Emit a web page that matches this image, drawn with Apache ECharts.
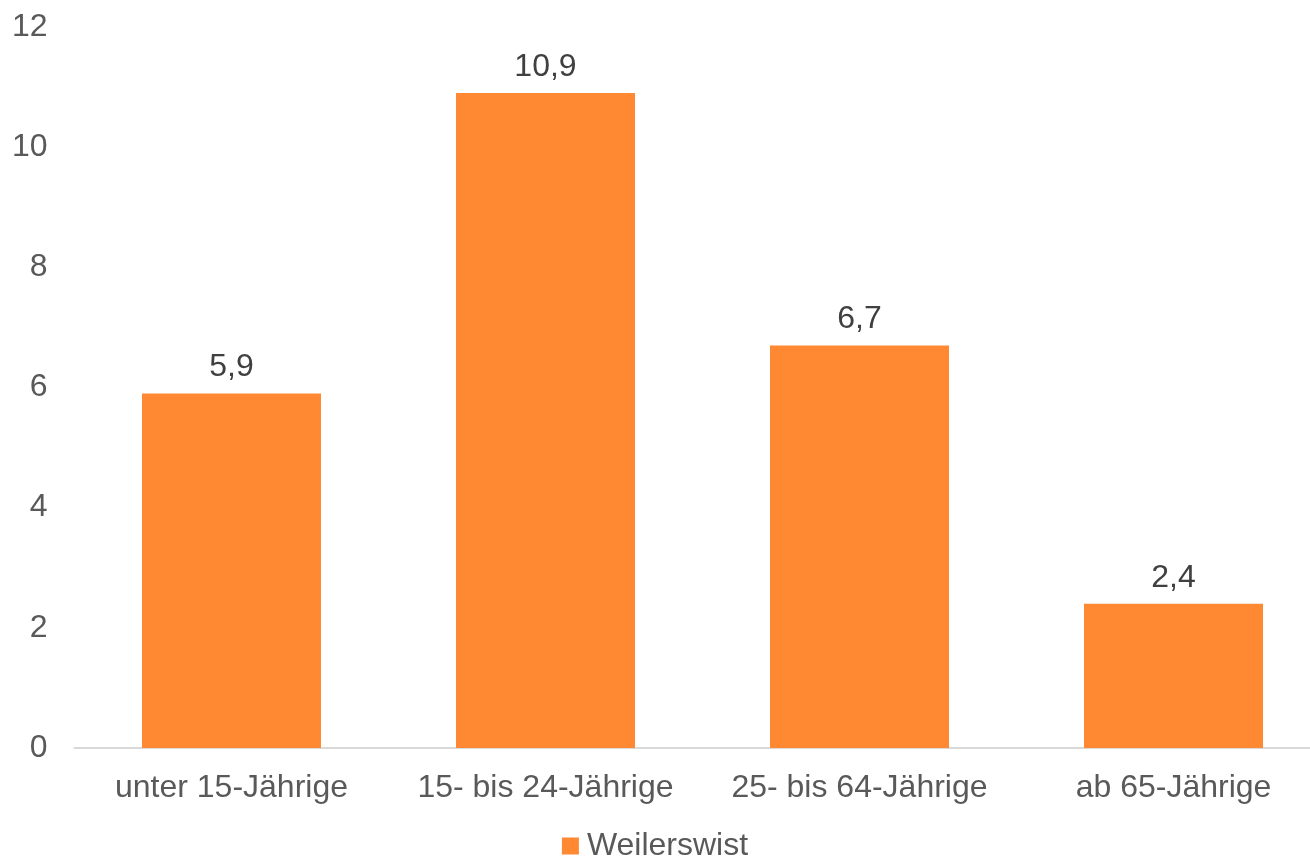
<!DOCTYPE html>
<html><head><meta charset="utf-8">
<script src="https://cdn.jsdelivr.net/npm/echarts@6/dist/echarts.min.js"></script>
<style>html,body{margin:0;padding:0;background:#fff}#c{width:1310px;height:858px}</style>
</head><body><div id="c"></div>
<script>
const categories = ['unter 15-Jährige', '15- bis 24-Jährige', '25- bis 64-Jährige', 'ab 65-Jährige'];
const seriesName = 'Weilerswist';
const values = [5.9, 10.9, 6.7, 2.4];
const yTicks = [0, 2, 4, 6, 8, 10, 12];

const chart = echarts.init(document.getElementById('c'), null, {renderer: 'canvas'});
const font = 'Liberation Sans, Arial, sans-serif';
chart.setOption({
  animation: false,
  grid: {left: 74.5, width: 1256, top: 27, bottom: 110, containLabel: false, outerBoundsMode: 'none'},
  legend: {
    top: 825, left: 'center', itemWidth: 17, itemHeight: 17, itemGap: 10,
    icon: 'rect',
    textStyle: {fontFamily: font, fontSize: 32, color: '#595959', padding: [0, 0, 0, 3]},
    data: [seriesName]
  },
  xAxis: {
    type: 'category', data: categories,
    axisLine: {lineStyle: {color: '#d9d9d9', width: 2}},
    axisTick: {show: false},
    axisLabel: {fontFamily: font, fontSize: 32, color: '#595959', margin: 24, interval: 0}
  },
  yAxis: {
    type: 'value', min: yTicks[0], max: yTicks[yTicks.length - 1], interval: 2,
    splitLine: {show: false},
    axisLine: {show: false}, axisTick: {show: false},
    axisLabel: {fontFamily: font, fontSize: 32, color: '#595959', margin: 27}
  },
  series: [{
    name: seriesName, type: 'bar', data: values, barWidth: 179,
    itemStyle: {color: '#FF8833'},
    label: {
      show: true, position: 'top', distance: 10,
      fontFamily: font, fontSize: 32, color: '#404040',
      formatter: p => String(p.value).replace('.', ',')
    }
  }]
});
</script></body></html>
